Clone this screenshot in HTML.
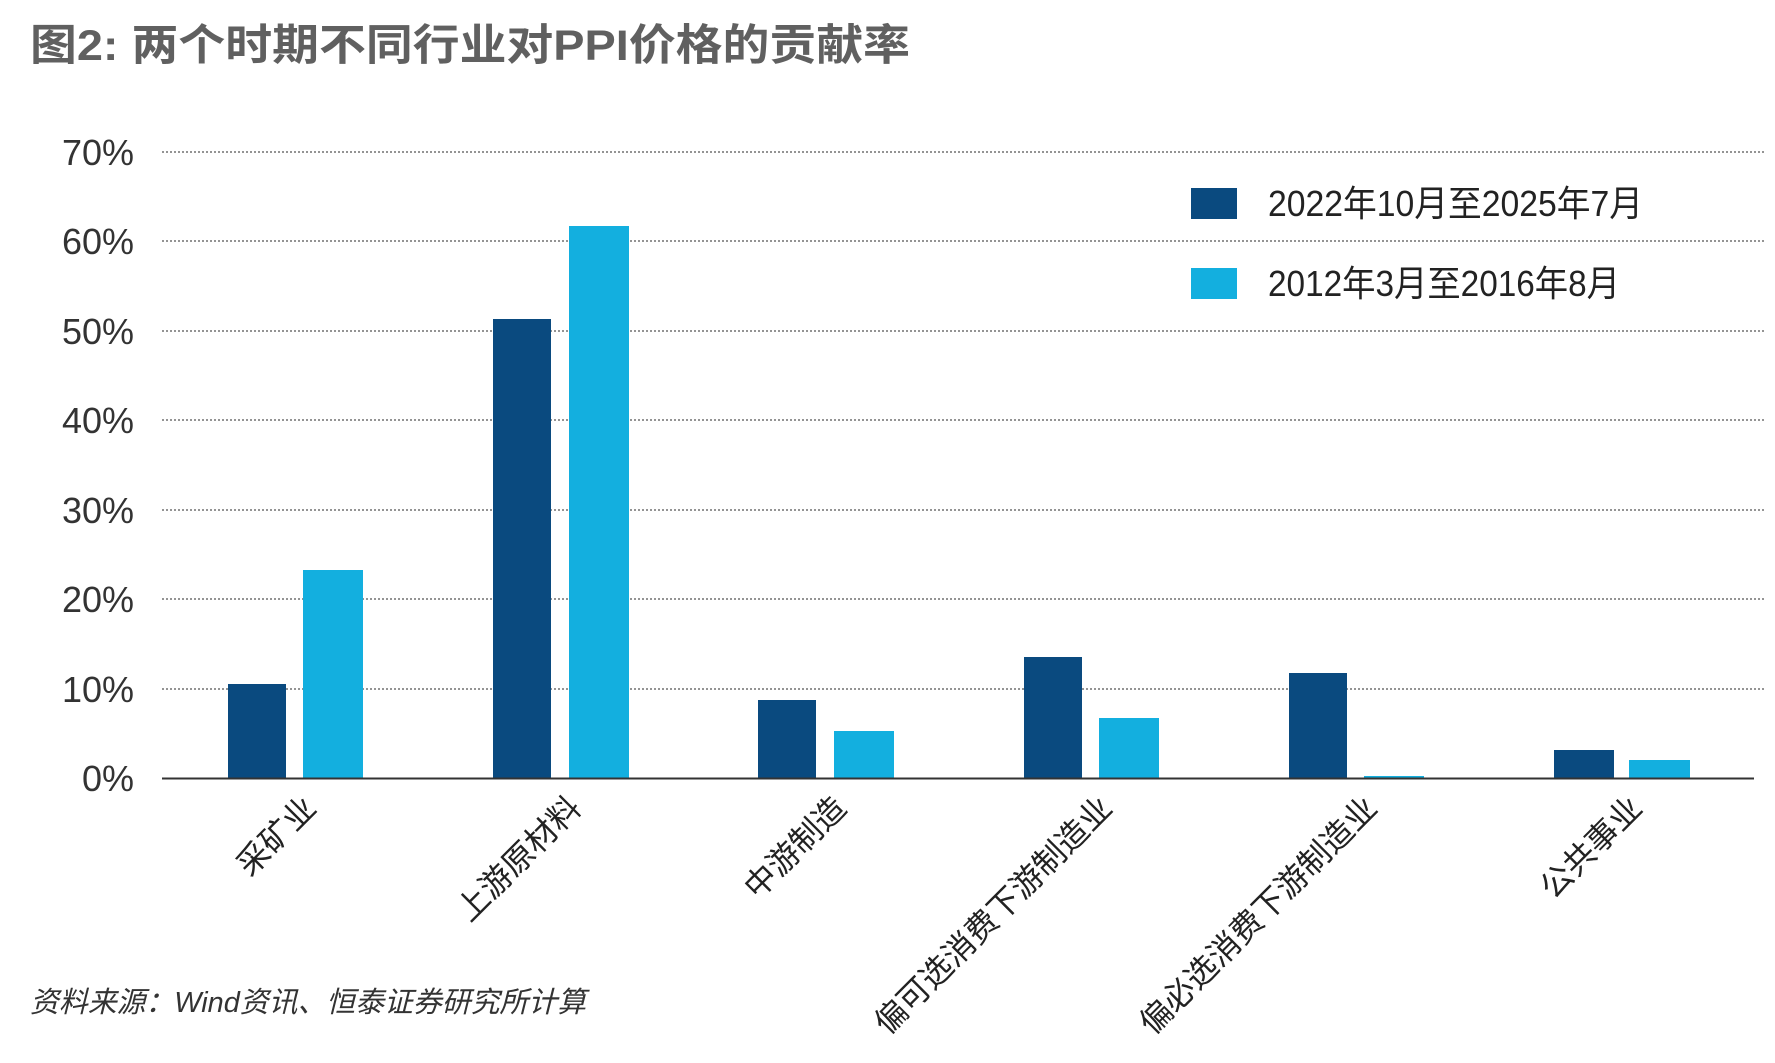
<!DOCTYPE html>
<html><head><meta charset="utf-8"><style>
html,body{margin:0;padding:0;background:#fff;}
svg{display:block;}
text{font-family:"Liberation Sans","Noto Sans CJK SC",sans-serif;}
</style></head><body>
<svg width="1775" height="1063" viewBox="0 0 1775 1063" xmlns="http://www.w3.org/2000/svg">
<text x="30" y="60" font-size="43" font-weight="bold" fill="#606060" textLength="880" lengthAdjust="spacingAndGlyphs">图2: 两个时期不同行业对PPI价格的贡献率</text>
<g stroke="#555" stroke-width="1.2" stroke-dasharray="2,2">
<line x1="162" y1="152" x2="1764" y2="152"/>
<line x1="162" y1="241" x2="1764" y2="241"/>
<line x1="162" y1="331" x2="1764" y2="331"/>
<line x1="162" y1="420" x2="1764" y2="420"/>
<line x1="162" y1="510" x2="1764" y2="510"/>
<line x1="162" y1="599" x2="1764" y2="599"/>
<line x1="162" y1="689" x2="1764" y2="689"/>
</g>
<g font-size="36" fill="#333" text-anchor="end">
<text x="134" y="165">70%</text>
<text x="134" y="254">60%</text>
<text x="134" y="344">50%</text>
<text x="134" y="433">40%</text>
<text x="134" y="523">30%</text>
<text x="134" y="612">20%</text>
<text x="134" y="702">10%</text>
<text x="134" y="791">0%</text>
</g>
<g fill="#0a4a7f">
<rect x="228" y="684" width="58" height="94"/>
<rect x="493" y="319" width="58" height="459"/>
<rect x="758" y="700" width="58" height="78"/>
<rect x="1024" y="657" width="58" height="121"/>
<rect x="1289" y="673" width="58" height="105"/>
<rect x="1554" y="750" width="60" height="28"/>
</g>
<g fill="#13afdf">
<rect x="303" y="570" width="60" height="208"/>
<rect x="569" y="226" width="60" height="552"/>
<rect x="834" y="731" width="60" height="47"/>
<rect x="1099" y="718" width="60" height="60"/>
<rect x="1364" y="776" width="60" height="2"/>
<rect x="1629" y="760" width="61" height="18"/>
</g>
<line x1="162" y1="778.5" x2="1754" y2="778.5" stroke="#333" stroke-width="2"/>
<g font-size="32" fill="#222" text-anchor="end">
<text transform="translate(318,810) rotate(-45)">采矿业</text>
<text transform="translate(583,810) rotate(-45)">上游原材料</text>
<text transform="translate(848,810) rotate(-45)">中游制造</text>
<text transform="translate(1114,810) rotate(-45)">偏可选消费下游制造业</text>
<text transform="translate(1379,810) rotate(-45)">偏必选消费下游制造业</text>
<text transform="translate(1644,810) rotate(-45)">公共事业</text>
</g>
<rect x="1191" y="188" width="46" height="31" fill="#0a4a7f"/>
<rect x="1191" y="268" width="46" height="31" fill="#13afdf"/>
<g font-size="36" fill="#222">
<text x="1268" y="216" textLength="375" lengthAdjust="spacingAndGlyphs">2022年10月至2025年7月</text>
<text x="1268" y="296" textLength="352" lengthAdjust="spacingAndGlyphs">2012年3月至2016年8月</text>
</g>
<text x="30" y="1012" font-size="29" font-style="italic" fill="#333" textLength="556" lengthAdjust="spacingAndGlyphs">资料来源：Wind资讯、恒泰证券研究所计算</text>
</svg>
</body></html>
